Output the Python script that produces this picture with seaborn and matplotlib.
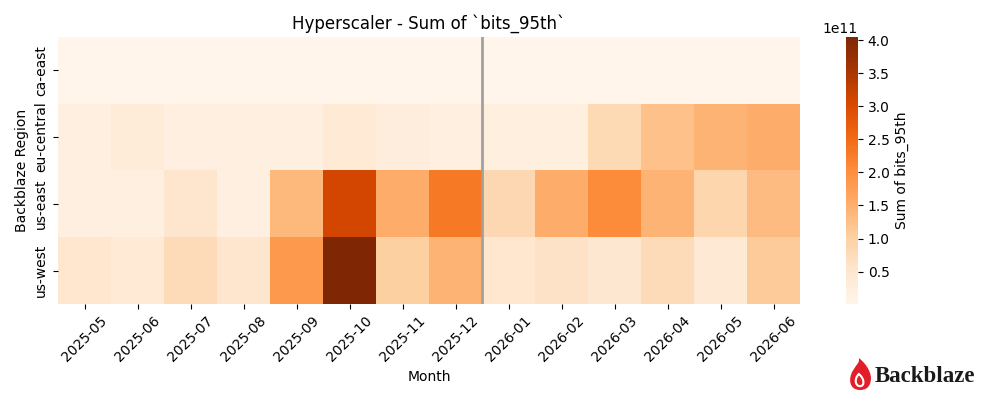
import numpy as np
import pandas as pd
import seaborn as sns
import matplotlib.pyplot as plt
from matplotlib.path import Path
from matplotlib.patches import PathPatch

# months and regions
months = ["2025-05", "2025-06", "2025-07", "2025-08", "2025-09", "2025-10", "2025-11",
          "2025-12", "2026-01", "2026-02", "2026-03", "2026-04", "2026-05", "2026-06"]
regions = ["ca-east", "eu-central", "us-east", "us-west"]

# sum of bits_95th, in units of 1e11
ca_east = [0.01, 0.01, 0.01, 0.01, 0.01, 0.01, 0.01, 0.01, 0.01, 0.01, 0.01, 0.01, 0.01, 0.01]
eu_central = [0.20, 0.33, 0.20, 0.20, 0.20, 0.40, 0.27, 0.20, 0.22, 0.22, 0.82, 1.25, 1.45, 1.55]
us_east = [0.20, 0.20, 0.52, 0.20, 1.38, 3.10, 1.55, 2.30, 0.85, 1.55, 2.06, 1.45, 0.88, 1.33]
us_west = [0.50, 0.40, 0.78, 0.52, 1.85, 4.05, 1.03, 1.45, 0.50, 0.60, 0.48, 0.78, 0.42, 1.10]

df = pd.DataFrame([ca_east, eu_central, us_east, us_west], index=regions, columns=months) * 1e11

fig = plt.figure(figsize=(10, 4), dpi=100)
ax = fig.add_axes([0.058, 0.24, 0.742, 0.668])
cax = fig.add_axes([0.846, 0.24, 0.012, 0.668])

sns.heatmap(df, cmap="Oranges", ax=ax, cbar_ax=cax,
            cbar_kws={"label": "Sum of bits_95th"})
ax.axvline(8, color="#a0a0a0", lw=2)
ax.set_title("Hyperscaler - Sum of `bits_95th`")
ax.set_xlabel("Month")
ax.set_ylabel("Backblaze Region")
ax.set_xticklabels(months, rotation=45)
ax.set_yticklabels(regions, rotation=90, va="center")

# Backblaze logo
lax = fig.add_axes([0.848, 0.025, 0.024, 0.08])
lax.set_xlim(0, 1)
lax.set_ylim(0, 1)
lax.axis("off")
flame = Path([(0.5, 0.0), (0.05, 0.0), (0.0, 0.35), (0.2, 0.6),
              (0.35, 0.8), (0.5, 0.85), (0.45, 1.0),
              (0.8, 0.8), (1.0, 0.5), (0.95, 0.3),
              (0.9, 0.05), (0.7, 0.0), (0.5, 0.0)],
             [Path.MOVETO, Path.CURVE4, Path.CURVE4, Path.CURVE4,
              Path.CURVE4, Path.CURVE4, Path.CURVE4,
              Path.CURVE4, Path.CURVE4, Path.CURVE4,
              Path.CURVE4, Path.CURVE4, Path.CURVE4])
lax.add_patch(PathPatch(flame, fc="#e21e29", ec="none"))
inner = Path([(0.5, 0.12), (0.3, 0.12), (0.25, 0.35), (0.45, 0.5),
              (0.7, 0.35), (0.7, 0.12), (0.5, 0.12)],
             [Path.MOVETO, Path.CURVE4, Path.CURVE4, Path.CURVE4,
              Path.CURVE4, Path.CURVE4, Path.CURVE4])
lax.add_patch(PathPatch(inner, fc="none", ec="white", lw=1.5))
fig.text(0.875, 0.06, "Backblaze", family="Liberation Serif", weight="bold",
         fontsize=16.5, color="#1a1a1a", va="center")

plt.savefig("out.png")
